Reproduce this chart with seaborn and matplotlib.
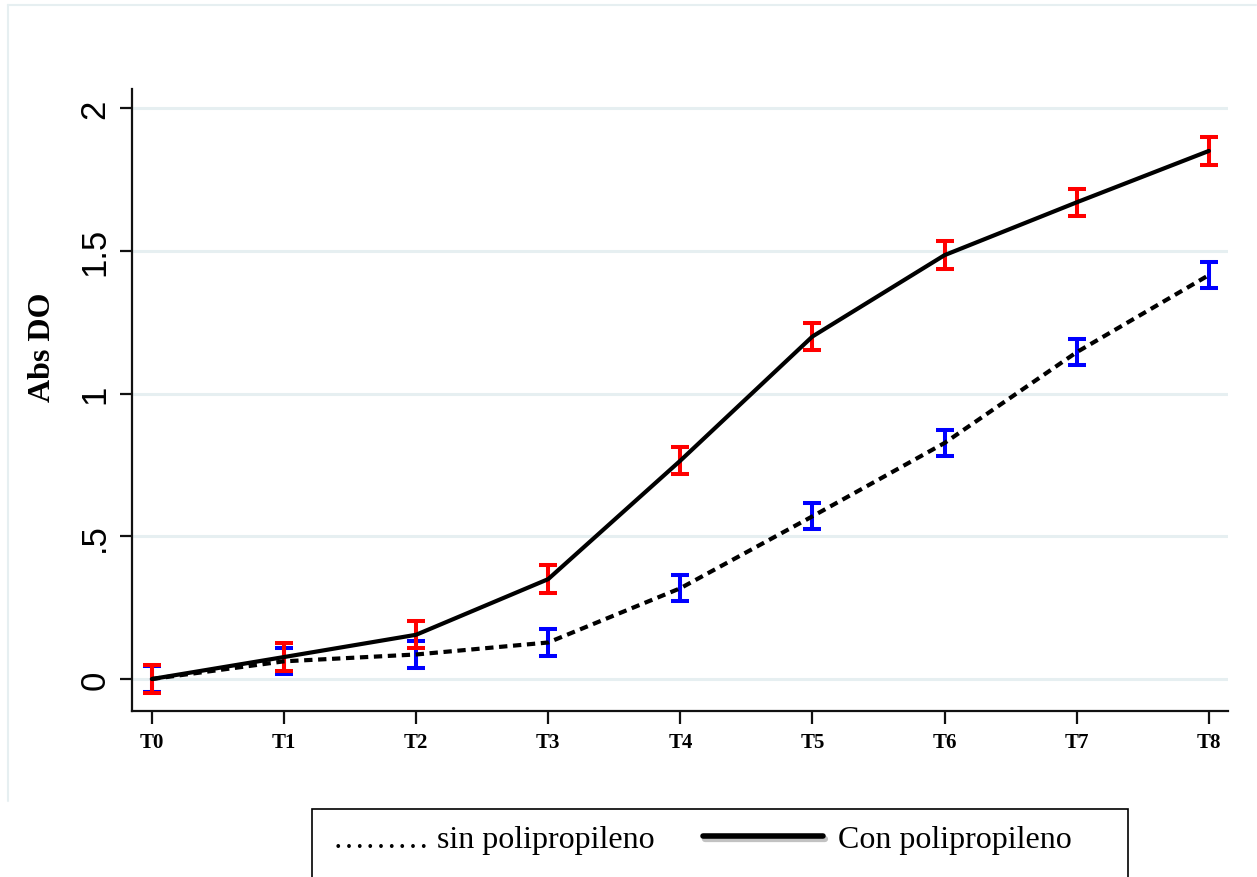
import numpy as np
import pandas as pd
import matplotlib
matplotlib.use("Agg")
import matplotlib.pyplot as plt
import seaborn as sns
from matplotlib.lines import Line2D
from matplotlib.patches import Rectangle

# ---- data ----
times = ["T0", "T1", "T2", "T3", "T4", "T5", "T6", "T7", "T8"]
con_poli = [0.0, 0.077, 0.155, 0.35, 0.765, 1.20, 1.485, 1.67, 1.85]
sin_poli = [0.0, 0.062, 0.086, 0.128, 0.318, 0.57, 0.827, 1.145, 1.415]
con_err = [0.048, 0.048, 0.048, 0.048, 0.048, 0.048, 0.048, 0.048, 0.048]
sin_err = [0.046, 0.046, 0.046, 0.046, 0.046, 0.046, 0.046, 0.046, 0.046]
yticks = [0, 0.5, 1, 1.5, 2]
ytick_labels = ["0", ".5", "1", "1.5", "2"]
legend_labels = ["……… sin polipropileno", "Con polipropileno"]

sns.set_theme(style="white")
plt.rcParams["font.family"] = ["Liberation Sans", "DejaVu Sans"]
plt.rcParams["text.color"] = "black"
plt.rcParams["xtick.color"] = "black"
plt.rcParams["ytick.color"] = "black"

W, H = 1257, 878
fig = plt.figure(figsize=(W / 100, H / 100), dpi=100)
ax = fig.add_axes([132 / W, 1 - 712 / H, (1228 - 132) / W, (712 - 90) / H])

x = np.arange(len(times))
df = pd.DataFrame({
    "x": np.concatenate([x, x]),
    "y": con_poli + sin_poli,
    "serie": ["con"] * len(times) + ["sin"] * len(times),
})

# gridlines
for yt in yticks:
    ax.axhline(yt, color="#e6eff1", lw=2.2, zorder=0)

# error bars
ax.errorbar(x, sin_poli, yerr=sin_err, fmt="none", ecolor="#0000ff",
            elinewidth=2.9, capsize=6.2, capthick=2.9, zorder=2)
ax.errorbar(x, con_poli, yerr=con_err, fmt="none", ecolor="#ff0000",
            elinewidth=2.9, capsize=6.2, capthick=2.9, zorder=3)

# lines
sns.lineplot(data=df[df.serie == "sin"], x="x", y="y", ax=ax, color="black",
             lw=3.0, linestyle=(0, (2.0, 1.35)), zorder=4, legend=False)
sns.lineplot(data=df[df.serie == "con"], x="x", y="y", ax=ax, color="black",
             lw=3.0, zorder=5, legend=False)

ax.set_xlim(-0.15, 8.145)
ax.set_ylim(-0.112, 2.067)
ax.set_xticks(x)
ax.set_xticklabels(times, family=["Liberation Serif"], fontweight="bold", fontsize=15)
ax.set_yticks(yticks)
ax.set_yticklabels(ytick_labels, rotation=90, va="center", fontsize=25)
ax.tick_params(axis="both", direction="out", length=9, width=1.6, color="#111111",
               bottom=True, left=True)
ax.tick_params(axis="y", pad=6)
ax.tick_params(axis="x", pad=6)
for s in ["top", "right"]:
    ax.spines[s].set_visible(False)
for s in ["left", "bottom"]:
    ax.spines[s].set_color("#111111")
    ax.spines[s].set_linewidth(1.6)
ax.set_xlabel("")
ax.set_ylabel("")

fig.text(43 / W, 1 - 347 / H, "Abs DO", rotation=90, ha="center", va="center",
         family=["Liberation Serif"], fontweight="bold", fontsize=23)

# outer light frame (left and top edges)
fig.add_artist(Line2D([8 / W, 8 / W], [1 - 6 / H, 1 - 802 / H],
                      transform=fig.transFigure, color="#e6eff1", lw=1.5))
fig.add_artist(Line2D([8 / W, 1 - 1 / W], [1 - 6 / H, 1 - 6 / H],
                      transform=fig.transFigure, color="#e6eff1", lw=1.5))

# legend box
fig.add_artist(Rectangle((312 / W, -0.05), (1128 - 312) / W, 0.05 + (878 - 810) / H,
                         transform=fig.transFigure, fill=False, ec="black", lw=1.2))
fig.text(333 / W, 1 - 841 / H, legend_labels[0], ha="left", va="center",
         family=["Liberation Serif", "DejaVu Serif"], fontsize=23)
fig.add_artist(Line2D([705 / W, 825 / W], [1 - 840 / H, 1 - 840 / H],
                      transform=fig.transFigure, color="#9a9a9a", lw=4.5, alpha=0.6))
fig.add_artist(Line2D([703 / W, 823 / W], [1 - 837 / H, 1 - 837 / H],
                      transform=fig.transFigure, color="black", lw=4))
fig.text(838 / W, 1 - 841 / H, legend_labels[1], ha="left", va="center",
         family=["Liberation Serif"], fontsize=23)

fig.savefig("out.png", dpi=100)
